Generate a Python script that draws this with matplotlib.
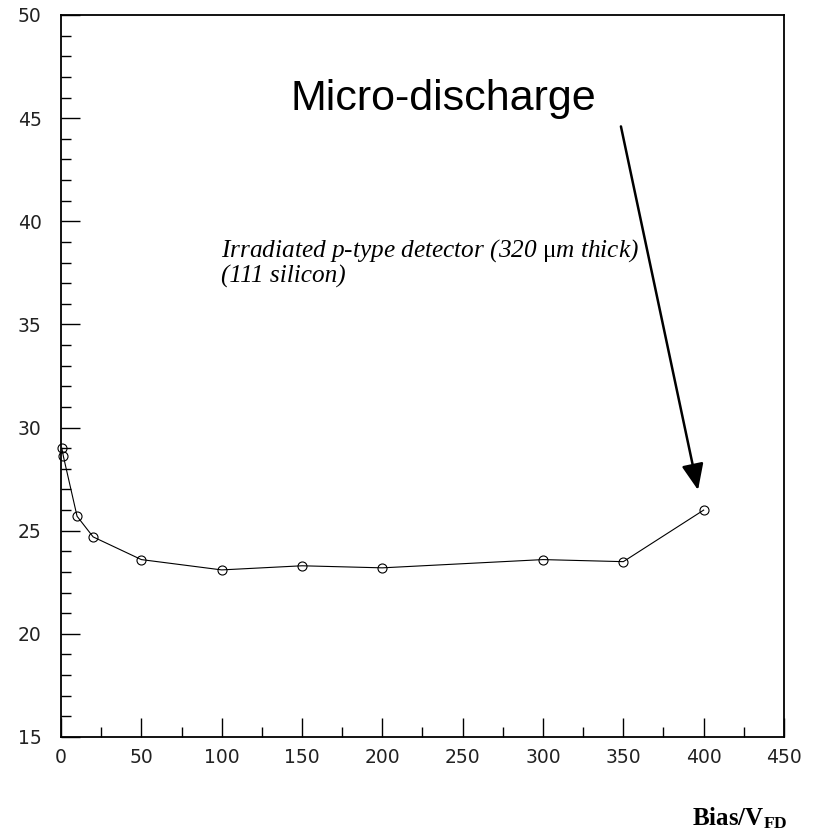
import matplotlib
matplotlib.use("Agg")
import matplotlib.pyplot as plt
from matplotlib.ticker import MultipleLocator

# Measured noise versus bias voltage
bias = [0.5, 1.5, 10, 20, 50, 100, 150, 200, 300, 350, 400]
noise = [29.0, 28.6, 25.7, 24.7, 23.6, 23.1, 23.3, 23.2, 23.6, 23.5, 26.0]

x_ticks = [0, 50, 100, 150, 200, 250, 300, 350, 400, 450]
y_ticks = [15, 20, 25, 30, 35, 40, 45, 50]

plt.rcParams['mathtext.fontset'] = 'custom'
plt.rcParams['mathtext.rm'] = 'Liberation Serif'
plt.rcParams['mathtext.it'] = 'Liberation Serif:italic'
plt.rcParams['mathtext.bf'] = 'Liberation Serif:bold'

fig = plt.figure(figsize=(8.16, 8.35), dpi=100)
ax = fig.add_axes([61 / 816, 1 - 737 / 835, (784 - 61) / 816, (737 - 15) / 835])

ax.plot(bias, noise, color='black', lw=0.8, marker='o', ms=6.5,
        mfc='none', mec='black', mew=0.8, clip_on=False, zorder=3)

ax.set_xlim(0, 450)
ax.set_ylim(15, 50)
ax.set_xticks(x_ticks)
ax.set_yticks(y_ticks)
ax.xaxis.set_minor_locator(MultipleLocator(25))
ax.yaxis.set_minor_locator(MultipleLocator(1))
ax.tick_params(which='both', direction='in', top=False, right=False,
               color='black', width=1.0)
ax.tick_params(which='major', length=14, labelsize=13.5, labelcolor='#222222')
ax.tick_params(which='minor', length=7)
ax.tick_params(axis='y', which='major', pad=14)
ax.tick_params(axis='x', which='major', pad=8)
for s in ax.spines.values():
    s.set_linewidth(1.3)

fig.text(290 / 816, 1 - 110 / 835, "Micro-discharge",
         fontsize=31, family='Liberation Sans', ha='left', va='baseline')

fig.text(221 / 816, 1 - 257 / 835,
         r"Irradiated p-type detector (320 $\mathrm{\mu}$m thick)",
         fontsize=18.2, family='Liberation Serif',
         style='italic', ha='left', va='baseline')
fig.text(221 / 816, 1 - 283 / 835, "(111 silicon)",
         fontsize=18.2, family='Liberation Serif',
         style='italic', ha='left', va='baseline')

ax.annotate("", xy=(396.5, 26.97), xytext=(348.5, 44.6),
            arrowprops=dict(arrowstyle='-|>,head_length=1.0,head_width=0.42',
                            color='black', lw=1.8, shrinkA=0, shrinkB=0,
                            mutation_scale=16),
            annotation_clip=False)

fig.text(692 / 816, 1 - 825 / 835, r"$\mathbf{Bias/V_{FD}}$",
         fontsize=18, ha='left', va='baseline')

fig.savefig("out.png", dpi=100, facecolor='white')
